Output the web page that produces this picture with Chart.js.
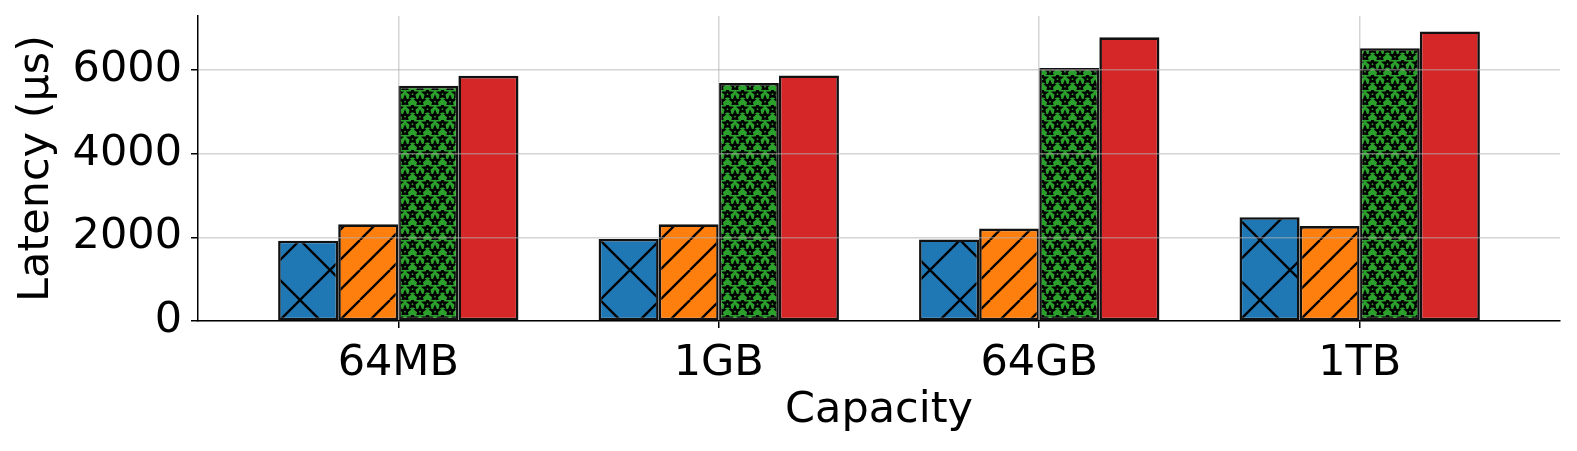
<!DOCTYPE html>
<html>
<head>
<meta charset="utf-8">
<script src="https://cdn.jsdelivr.net/npm/chart.js@4.4.1/dist/chart.umd.min.js"></script>
<style>
    html, body { margin: 0; padding: 0; background: #fff; }
    #wrap { position: relative; width: 1577px; height: 451px; }
</style>
</head>
<body>
<div id="wrap"><canvas id="chart"></canvas></div>
<script>
// values
const categories = ['64MB', '1GB', '64GB', '1TB'];
const blueValues = [1920, 1960, 1950, 2480];
const orangeValues = [2310, 2310, 2210, 2270];
const greenValues = [5620, 5690, 6050, 6520];
const redValues = [5860, 5870, 6780, 6920];
const yTicks = [0, 2000, 4000, 6000];
const yMax = 7290;

const FONT = 'DejaVu Sans';
const GRID = 'rgba(176,176,176,0.55)';

// hatch tiles, like matplotlib 'x', '//' and '*'
function tile(w, h, color, draw) {
    const c = document.createElement('canvas');
    c.width = w; c.height = h;
    const g = c.getContext('2d');
    g.fillStyle = color;
    g.fillRect(0, 0, w, h);
    g.strokeStyle = '#000';
    g.fillStyle = '#000';
    g.lineWidth = 2.3;
    draw(g, w, h);
    return g.createPattern(c, 'repeat');
}

function crossHatch(color) {
    return tile(60, 60, color, (g, w, h) => {
        for (const o of [-w, 0, w]) {
            g.beginPath();
            g.moveTo(o, 0); g.lineTo(o + w, h);
            g.moveTo(o, h); g.lineTo(o + w, 0);
            g.stroke();
        }
    });
}

function slashHatch(color) {
    return tile(30, 30, color, (g, w, h) => {
        for (const o of [-w, 0, w]) {
            g.beginPath();
            g.moveTo(o, h); g.lineTo(o + w, 0);
            g.stroke();
        }
    });
}

function star(g, cx, cy, r) {
    g.beginPath();
    for (let i = 0; i < 10; i++) {
        const a = -Math.PI / 2 + i * Math.PI / 5;
        const rr = i % 2 === 0 ? r : r * 0.45;
        g.lineTo(cx + rr * Math.cos(a), cy + rr * Math.sin(a));
    }
    g.closePath();
    g.lineWidth = 1.8;
    g.fill();
    g.stroke();
}

function starHatch(color) {
    return tile(15, 15, color, (g, w, h) => {
        const pts = [[7.5, 3.8], [0, 11.3], [15, 11.3]];
        for (const [x, y] of pts) star(g, x, y, 4.6);
        g.fillStyle = color;
        for (const [x, y] of pts) { g.beginPath(); g.arc(x, y + 0.4, 0.9, 0, Math.PI * 2); g.fill(); }
    });
}

const toPoints = vals => vals.map((v, i) => ({ x: i, y: v }));

function series(vals, fill) {
    return {
        data: toPoints(vals),
        backgroundColor: fill,
        borderColor: '#111',
        borderWidth: 2.6,
        borderSkipped: false,
        categoryPercentage: 0.75,
        barPercentage: 1.0
    };
}

const tickFont = { family: FONT, size: 43 };
const titleFont = { family: FONT, size: 43, lineHeight: 1 };

new Chart(document.getElementById('chart'), {
    type: 'bar',
    data: {
        datasets: [
            series(blueValues, crossHatch('#1f77b4')),
            series(orangeValues, slashHatch('#ff7f0e')),
            series(greenValues, starHatch('#2ca02c')),
            series(redValues, '#d62728')
        ]
    },
    options: {
        responsive: true,
        maintainAspectRatio: false,
        animation: false,
        layout: { padding: { left: 0, right: 17, top: 16, bottom: 0 } },
        plugins: { legend: { display: false }, tooltip: { enabled: false } },
        scales: {
            x: {
                type: 'linear',
                min: -0.625,
                max: 3.625,
                offset: false,
                afterBuildTicks: s => { s.ticks = categories.map((c, i) => ({ value: i })); },
                afterFit: s => { s.height = 130; s.paddingLeft = 0; s.paddingRight = 0; },
                ticks: {
                    callback: v => categories[v],
                    font: tickFont, color: '#000', padding: 10,
                    maxRotation: 0, autoSkip: false
                },
                grid: {
                    offset: false, color: GRID, lineWidth: 1.5, z: 1,
                    tickLength: 7, tickColor: '#000', tickWidth: 1.5
                },
                border: { color: '#000', width: 1.5, z: 2 },
                title: {
                    display: true, text: 'Capacity', font: titleFont, color: '#000',
                    padding: { top: 0, bottom: 19 }
                }
            },
            y: {
                min: 0,
                max: yMax,
                afterBuildTicks: s => { s.ticks = yTicks.map(v => ({ value: v })); },
                afterFit: s => { s.width = 198; s.paddingTop = 0; s.paddingBottom = 0; },
                ticks: { callback: v => String(v), font: tickFont, color: '#000', padding: 9 },
                grid: {
                    color: GRID, lineWidth: 1.5, z: 1,
                    tickLength: 7, tickColor: '#000', tickWidth: 1.5
                },
                border: { color: '#000', width: 1.5, z: 2 },
                title: {
                    display: true, text: 'Latency (µs)', font: titleFont, color: '#000',
                    padding: { top: 15.5, bottom: 0 }
                }
            }
        }
    }
});
</script>
</body>
</html>
